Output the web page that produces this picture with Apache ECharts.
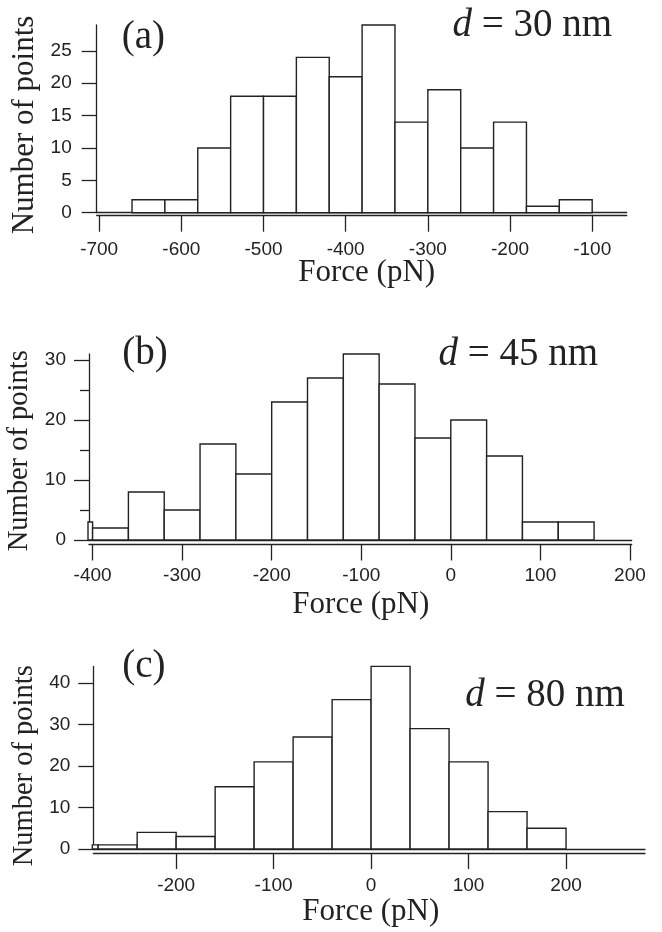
<!DOCTYPE html>
<html>
<head>
<meta charset="utf-8">
<script src="https://cdn.jsdelivr.net/npm/echarts@6/dist/echarts.min.js"></script>
<style>html,body{margin:0;padding:0;background:#fff}#c{width:662px;height:932px}</style>
</head>
<body>
<div id="c"></div>
<script>
// ---------- data ----------
const binWidth = 40;
// panel (a) d = 30 nm
const aBinStarts = [-660,-620,-580,-540,-500,-460,-420,-380,-340,-300,-260,-220,-180,-140];
const aCounts    = [2,2,10,18,18,24,21,29,14,19,10,14,1,2];
const aXTicks    = [-700,-600,-500,-400,-300,-200,-100];
const aYTicks    = [0,5,10,15,20,25];
// panel (b) d = 45 nm
const bBinStarts = [-440,-400,-360,-320,-280,-240,-200,-160,-120,-80,-40,0,40,80,120];
const bCounts    = [3,2,8,5,16,11,23,27,31,26,17,20,14,3,3];
const bXTicks    = [-400,-300,-200,-100,0,100,200];
const bYTicks    = [0,10,20,30];
const bYMinor    = [5,15,25];
// panel (c) d = 80 nm
const cBinStarts = [-320,-280,-240,-200,-160,-120,-80,-40,0,40,80,120,160];
const cCounts    = [1,1,4,3,15,21,27,36,44,29,21,9,5];
const cXTicks    = [-200,-100,0,100,200];
const cYTicks    = [0,10,20,30,40];

const xTitle = 'Force (pN)';
const yTitle = 'Number of points';
const panelLabels = ['(a)','(b)','(c)'];
const distLabels = ['30','45','80'];

// ---------- layout ----------
const INK = '#222';
const sans = 'Liberation Sans, Arial, sans-serif';
const serif = 'Liberation Serif, Times New Roman, serif';

const panels = [
  {starts:aBinStarts, counts:aCounts, xt:aXTicks, yt:aYTicks, ym:[],
   xmin:-703, xmax:-58, ymax:29,
   grid:{left:96.7, right:35.3, top:25, bottom:719.3},
   xOff:3, xLabMargin:25, yLabMargin:25},
  {starts:bBinStarts, counts:bCounts, xt:bXTicks, yt:bYTicks, ym:bYMinor,
   xmin:-404, xmax:202, ymax:31,
   grid:{left:89, right:30.3, top:354, bottom:392},
   xOff:4.5, xLabMargin:22, yLabMargin:23},
  {starts:cBinStarts, counts:cCounts, xt:cXTicks, yt:cYTicks, ym:[],
   xmin:-285, xmax:281, ymax:44,
   grid:{left:93.3, right:17, top:666.4, bottom:83},
   xOff:4, xLabMargin:23, yLabMargin:23}
];

const grids=[], xAxes=[], yAxes=[], series=[];
const lineStyle = {color:INK, width:1.3};

function renderBar(params, api){
  const x0 = api.value(0), x1 = api.value(1), v = api.value(2);
  const p0 = api.coord([x0, v]);
  const p1 = api.coord([x1, 0]);
  const cs = params.coordSys;
  const r = echarts.graphic.clipRectByRect(
    {x:p0[0], y:p0[1], width:p1[0]-p0[0], height:p1[1]-p0[1]},
    {x:cs.x-1, y:cs.y-1, width:cs.width+2, height:cs.height+2});
  if(!r) return null;
  return {type:'rect', shape:r, style:{fill:'#fff', stroke:INK, lineWidth:1.4}};
}

panels.forEach((p,i)=>{
  grids.push(p.grid);
  const xi = xAxes.length;
  // main x axis (offset below the baseline)
  xAxes.push({gridIndex:i, type:'value', min:p.xmin, max:p.xmax, position:'bottom', offset:p.xOff,
    axisLine:{show:true, onZero:false, lineStyle},
    axisTick:{show:true, inside:false, length:16, customValues:p.xt, lineStyle},
    axisLabel:{show:true, customValues:p.xt, margin:p.xLabMargin, fontSize:19, fontFamily:sans, color:INK},
    splitLine:{show:false}});
  // baseline (y = 0 line)
  xAxes.push({gridIndex:i, type:'value', min:p.xmin, max:p.xmax, position:'bottom', offset:0,
    axisLine:{show:true, onZero:false, lineStyle},
    axisTick:{show:false}, axisLabel:{show:false}, splitLine:{show:false}});
  const yi = yAxes.length;
  yAxes.push({gridIndex:i, type:'value', min:0, max:p.ymax, position:'left',
    axisLine:{show:true, onZero:false, lineStyle},
    axisTick:{show:true, inside:false, length:15, customValues:p.yt, lineStyle},
    axisLabel:{show:true, customValues:p.yt, margin:p.yLabMargin, fontSize:19, fontFamily:sans, color:INK},
    splitLine:{show:false}});
  if(p.ym.length){
    yAxes.push({gridIndex:i, type:'value', min:0, max:p.ymax, position:'left',
      axisLine:{show:false, onZero:false},
      axisTick:{show:true, inside:false, length:9, customValues:p.ym, lineStyle},
      axisLabel:{show:false}, splitLine:{show:false}});
  }
  series.push({type:'custom', xAxisIndex:xi, yAxisIndex:yi, renderItem:renderBar,
    encode:{x:[0,1], y:2}, silent:true, z:3,
    data:p.starts.map((s,k)=>[s, s+binWidth, p.counts[k]])});
});

const yNamePos = [{x:25,y:125,fs:31},{x:19.3,y:450.8,fs:28.5},{x:24.3,y:765.8,fs:28.5}];
const xNamePos = [{x:366.7,y:273.3},{x:360.8,y:605},{x:370.8,y:911.7}];
const panelPos = [{x:143.3,y:38.2},{x:145,y:353.5},{x:143.8,y:667}];
const distPos  = [{x:532.2,y:26.2},{x:518.3,y:354.7},{x:545,y:696.2}];

const graphic = [];
for(let i=0;i<3;i++){
  graphic.push({type:'text', x:yNamePos[i].x, y:yNamePos[i].y, rotation:Math.PI/2,
    style:{text:yTitle, font:yNamePos[i].fs+'px '+serif, fill:INK, align:'center', verticalAlign:'middle', textAlign:'center', textVerticalAlign:'middle'}});
  graphic.push({type:'text', x:xNamePos[i].x, y:xNamePos[i].y,
    style:{text:xTitle, font:'31px '+serif, fill:INK, align:'center', verticalAlign:'middle', textAlign:'center', textVerticalAlign:'middle'}});
  graphic.push({type:'text', x:panelPos[i].x, y:panelPos[i].y,
    style:{text:panelLabels[i], font:'39px '+serif, fill:INK, align:'center', verticalAlign:'middle', textAlign:'center', textVerticalAlign:'middle'}});
  graphic.push({type:'text', x:distPos[i].x, y:distPos[i].y,
    style:{text:'{i|d} = '+distLabels[i]+' nm', font:'39px '+serif, fill:INK, align:'center', verticalAlign:'middle', textAlign:'center', textVerticalAlign:'middle',
      rich:{i:{fontStyle:'italic', fontFamily:serif, fontSize:39, fill:INK, color:INK}}}});
}

const chart = echarts.init(document.getElementById('c'), null, {renderer:'canvas'});
chart.setOption({
  animation:false,
  backgroundColor:'#fff',
  grid:grids, xAxis:xAxes, yAxis:yAxes, series:series, graphic:graphic
});
</script>
</body>
</html>
